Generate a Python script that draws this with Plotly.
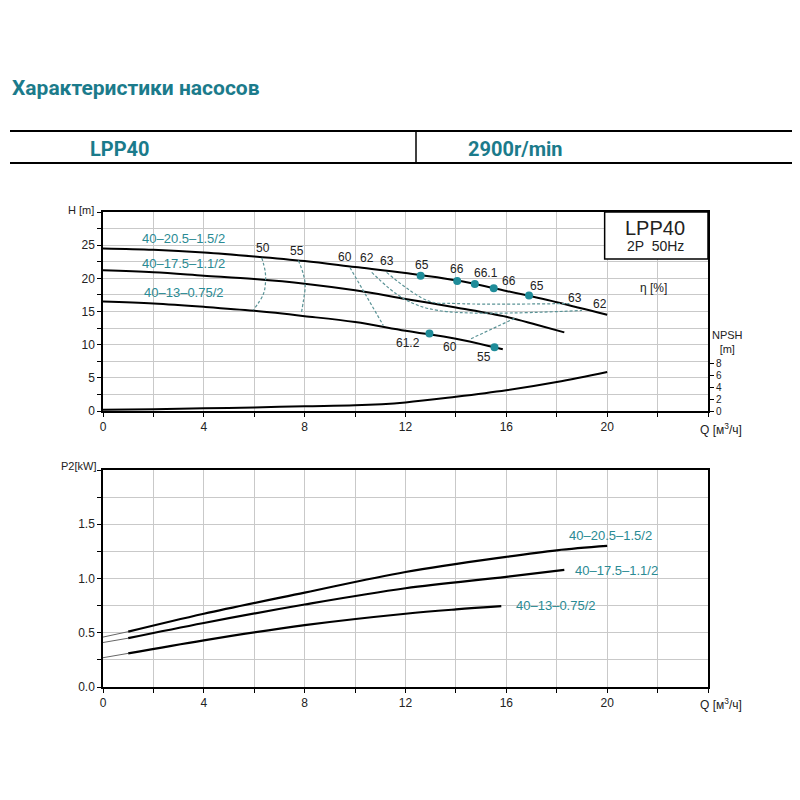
import plotly.graph_objects as go

# Q-H curves (Q in m3/h, H in m)
q_205 = [0, 2, 4, 6, 8, 10, 12, 14, 16, 18, 20]
h_205 = [24.5, 24.3, 23.9, 23.3, 22.6, 21.7, 20.8, 19.7, 18.1, 16.4, 14.5]
q_175 = [0, 2, 4, 6, 8, 10, 12, 14, 16, 17.2, 18.3]
h_175 = [21.2, 20.9, 20.4, 19.9, 19.2, 18.2, 16.9, 15.6, 14.2, 13.0, 11.85]
q_13 = [0, 2, 4, 6, 8, 10, 12, 14, 15.53, 15.86]
h_13 = [16.5, 16.2, 15.7, 15.1, 14.3, 13.4, 12.1, 10.9, 9.6, 9.3]

# NPSH curve
q_npsh = [0, 2, 4, 6, 8, 10, 12, 14, 16, 18, 20]
npsh = [0.2, 0.3, 0.45, 0.6, 0.8, 0.95, 1.45, 2.4, 3.5, 4.9, 6.6]

# efficiency points on curves
dot_q = [12.6, 14.05, 14.75, 15.5, 16.9, 12.95, 15.53]
dot_h = [20.4, 19.6, 19.15, 18.5, 17.4, 11.7, 9.6]

# efficiency iso-lines
eff_lines = {
    "50": ([6.30, 6.43, 6.45, 6.36, 5.96], [23.1, 21.1, 19.6, 17.6, 15.2]),
    "55": ([7.75, 7.95, 8.02, 7.95, 7.86], [22.7, 20.6, 18.9, 16.6, 14.6]),
    "60": ([9.8, 11.12], [21.6, 12.9]),
    "60b": ([14.6, 16.4], [10.9, 14.1]),
    "62": ([10.66, 11.9, 13.3, 19.0], [20.9, 17.0, 15.15, 15.15]),
    "63": ([11.25, 12.9, 14.0, 18.5], [20.9, 16.6, 16.2, 16.2]),
}

# efficiency labels
eff_text = ["50", "55", "60", "62", "63", "65", "66", "66.1", "66", "65", "63", "62", "61.2", "60", "55"]
eff_tq = [6.34, 7.69, 9.6, 10.47, 11.26, 12.65, 14.03, 15.2, 16.1, 17.2, 18.73, 19.72, 12.1, 13.75, 15.1]
eff_th = [24.6, 24.1, 23.2, 23.1, 22.6, 22.0, 21.4, 20.8, 19.6, 18.8, 17.0, 16.1, 10.2, 9.6, 8.2]

# P2 power curves (kW)
q_p205 = [0, 1, 4, 8, 12, 16, 18, 20]
p_205 = [0.46, 0.51, 0.675, 0.87, 1.06, 1.2, 1.26, 1.30]
q_p175 = [0, 1, 4, 8, 12, 16, 18.3]
p_175 = [0.41, 0.45, 0.59, 0.76, 0.91, 1.015, 1.08]
q_p13 = [0, 1, 4, 8, 12, 14, 15.8]
p_13 = [0.27, 0.31, 0.43, 0.57, 0.675, 0.715, 0.745]

models = ["40–20.5–1.5/2", "40–17.5–1.1/2", "40–13–0.75/2"]

x_ticks = list(range(0, 25, 2))
x_text = [str(v) if v % 4 == 0 and v <= 20 else "" for v in x_ticks]
h_ticks = [i * 2.5 for i in range(13)]
h_text = [str(int(v)) if v % 5 == 0 and v < 30 else "" for v in h_ticks]
p_ticks = [i * 0.25 for i in range(9)]
p_text = ["%.1f" % v if (v * 2) % 1 == 0 and v < 2 else "" for v in p_ticks]

TEAL = "#1b7b8b"
LBL = "#2a8a93"
DASH = "#5a9396"
FONT = "Liberation Sans"
HEAD = "Roboto"

# page has an 8px body margin, so the figure is 792 wide and pixel positions are shifted
W = 792


def px(x):
    return (x - 8) / W


def py(y):
    return 1 - (y - 8) / W


fig = go.Figure()

# upper chart
for q, h in [(q_205, h_205), (q_175, h_175), (q_13, h_13)]:
    fig.add_trace(go.Scatter(x=q, y=h, mode="lines", line=dict(color="black", width=2, shape="spline"),
                             xaxis="x", yaxis="y", showlegend=False))
for k, (q, h) in eff_lines.items():
    fig.add_trace(go.Scatter(x=q, y=h, mode="lines", line=dict(color=DASH, width=1.2, dash="3px,2px", shape="spline"),
                             xaxis="x", yaxis="y", showlegend=False))
fig.add_trace(go.Scatter(x=dot_q, y=dot_h, mode="markers", marker=dict(color="#1f8c99", size=8),
                         xaxis="x", yaxis="y", showlegend=False))
fig.add_trace(go.Scatter(x=q_npsh, y=npsh, mode="lines", line=dict(color="black", width=2, shape="spline"),
                         xaxis="x", yaxis="y3", showlegend=False))

# lower chart
for q, p in [(q_p205, p_205), (q_p175, p_175), (q_p13, p_13)]:
    fig.add_trace(go.Scatter(x=q[:2], y=p[:2], mode="lines", line=dict(color="#666", width=1),
                             xaxis="x2", yaxis="y2", showlegend=False))
    fig.add_trace(go.Scatter(x=q[1:], y=p[1:], mode="lines", line=dict(color="black", width=2.2, shape="spline"),
                             xaxis="x2", yaxis="y2", showlegend=False))

axis_common = dict(showline=True, linecolor="black", linewidth=1.5, mirror=True, automargin=False,
                   ticks="outside", ticklen=4, tickcolor="black", gridcolor="#c9c9c9", gridwidth=1,
                   zeroline=False, tickfont=dict(size=12, color="#222", family=FONT))

fig.update_layout(
    width=W, height=W,
    paper_bgcolor="white", plot_bgcolor="white",
    margin=dict(l=0, r=0, t=0, b=0),
    font=dict(family=FONT, color="#222"),
    xaxis=dict(domain=[px(103), px(708)], range=[0, 24], tickvals=x_ticks, ticktext=x_text,
               anchor="y", **axis_common),
    yaxis=dict(domain=[py(411), py(212)], range=[0, 30], tickvals=h_ticks, ticktext=h_text,
               anchor="x", **axis_common),
    yaxis3=dict(overlaying="y", side="right", anchor="x", range=[0, 33.6], tickvals=[0, 2, 4, 6, 8],
                showgrid=False, zeroline=False, showline=False, automargin=False,
                ticks="outside", ticklen=5, tickcolor="black",
                tickfont=dict(size=10, color="#222", family=FONT)),
    xaxis2=dict(domain=[px(103), px(708)], range=[0, 24], tickvals=x_ticks, ticktext=x_text,
                anchor="y2", **axis_common),
    yaxis2=dict(domain=[py(687), py(470)], range=[0, 2], tickvals=p_ticks, ticktext=p_text,
                anchor="x2", **axis_common),
)

ann = []


def note(x, y, text, size, color="#222", xanchor="center", family=None):
    f = dict(size=size, color=color)
    if family:
        f["family"] = family
    ann.append(dict(xref="paper", yref="paper", x=px(x), y=py(y), xanchor=xanchor, yanchor="middle",
                    text=text, showarrow=False, font=f))


# header
note(10, 88, "<b>Характеристики насосов</b>", 21, TEAL, "left", HEAD)
note(88, 149, "<b>LPP40</b>", 20, TEAL, "left", HEAD)
note(466, 149, "<b>2900r/min</b>", 20, TEAL, "left", HEAD)

# axis labels
note(96, 210, "H [m]", 11, xanchor="right")
note(98, 466, "P2[kW]", 11, xanchor="right")
note(721, 429, "Q [м<sup>3</sup>/ч]", 12)
note(721, 704, "Q [м<sup>3</sup>/ч]", 12)
note(727, 342, "NPSH<br>[m]", 11)

# box
note(655, 228, "LPP40", 20)
note(655, 246, "2P  50Hz", 14)

ann.append(dict(xref="x", yref="y", x=21.84, y=18.6, text="η [%]", showarrow=False, font=dict(size=12),
                xanchor="center", yanchor="middle"))

# model labels upper
for txt, yv in zip(models, [26.0, 22.2, 17.8]):
    ann.append(dict(xref="x", yref="y", x=3.2, y=yv, text=txt, showarrow=False, xanchor="center",
                    yanchor="middle", font=dict(size=13, color=LBL)))
# model labels lower
for txt, xv, yv in zip(models, [18.4, 18.65, 16.3], [1.40, 1.07, 0.755]):
    ann.append(dict(xref="x2", yref="y2", x=xv, y=yv, xanchor="left", yanchor="middle", text=txt,
                    showarrow=False, font=dict(size=13, color=LBL)))
# efficiency labels
for t, xv, yv in zip(eff_text, eff_tq, eff_th):
    ann.append(dict(xref="x", yref="y", x=xv, y=yv, text=t, showarrow=False, xanchor="center",
                    yanchor="middle", font=dict(size=12, color="#222")))

fig.update_layout(annotations=ann)

fig.update_layout(shapes=[
    dict(type="rect", xref="x", yref="y", x0=19.9, x1=24, y0=22.9, y1=30, fillcolor="white",
         line=dict(color="black", width=1.5), layer="above"),
    dict(type="line", xref="paper", yref="paper", x0=px(10), x1=1, y0=py(131), y1=py(131),
         line=dict(color="black", width=2)),
    dict(type="line", xref="paper", yref="paper", x0=px(10), x1=1, y0=py(163), y1=py(163),
         line=dict(color="black", width=2)),
    dict(type="line", xref="paper", yref="paper", x0=px(416), x1=px(416), y0=py(131), y1=py(163),
         line=dict(color="black", width=1.5)),
])

fig.write_html("out.html")
